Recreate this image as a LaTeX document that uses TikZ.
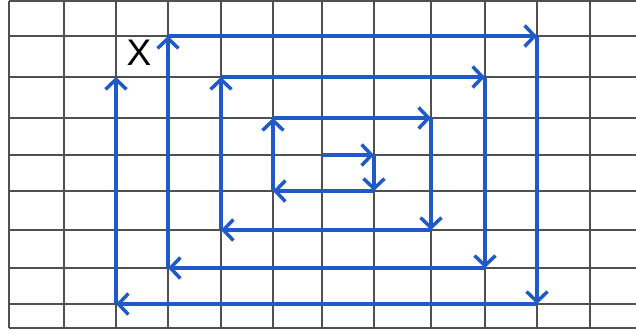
\documentclass[tikz,border=0pt]{standalone}
\usepackage{fontspec}
\setmainfont{Liberation Sans}
\usetikzlibrary{arrows.meta}
\definecolor{gridgray}{RGB}{80,80,80}
\definecolor{spiralblue}{RGB}{32,90,200}
\begin{document}
\begin{tikzpicture}[x=1pt,y=-1pt,
  gridline/.style={draw=gridgray,line width=2.4pt},
  spiral/.style={draw=spiralblue,line width=4pt,
    -{Straight Barb[length=10pt,width=21pt,line width=3.5pt]}},
  mark label/.style={font=\fontsize{37}{37}\selectfont,inner sep=0pt}
]
\useasboundingbox (0,0) rectangle (636,333);
\fill[white] (0,0) rectangle (636,333);
% grid
\foreach \x in {9,64,116,168,221,273,322,374,431,485,537,590}
  \draw[gridline] (\x,1) -- (\x,328);
\foreach \y in {1,36,77,118,155,191,230,268,304,328}
  \draw[gridline] (9,\y) -- (636,\y);
% spiral corner points
\coordinate (p0) at (322,155);
\coordinate (p1) at (374,155);
\coordinate (p2) at (374,191);
\coordinate (p3) at (273,191);
\coordinate (p4) at (273,118);
\coordinate (p5) at (431,118);
\coordinate (p6) at (431,230);
\coordinate (p7) at (221,230);
\coordinate (p8) at (221,77);
\coordinate (p9) at (485,77);
\coordinate (p10) at (485,268);
\coordinate (p11) at (168,268);
\coordinate (p12) at (168,36);
\coordinate (p13) at (537,36);
\coordinate (p14) at (537,304);
\coordinate (p15) at (116,304);
\coordinate (p16) at (116,77);
% spiral arrows
\foreach \a/\b in {p0/p1,p1/p2,p2/p3,p3/p4,p4/p5,p5/p6,p6/p7,p7/p8,
                   p8/p9,p9/p10,p10/p11,p11/p12,p12/p13,p13/p14,p14/p15,p15/p16}
  \draw[spiral] (\a) -- (\b);
% start mark
\node[mark label] (X) at (139,53) {X};
\end{tikzpicture}
\end{document}
